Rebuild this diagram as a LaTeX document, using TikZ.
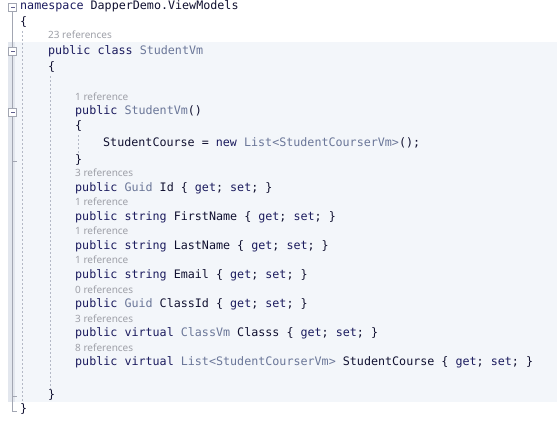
\documentclass[tikz,border=0pt]{standalone}
\usepackage{fontspec}
\setmonofont{DejaVu Sans Mono}
\newfontfamily\lensfont{Noto Sans}
\definecolor{kwc}{HTML}{1B1B5E}
\definecolor{tyc}{HTML}{6A7698}
\definecolor{idc}{HTML}{101030}
\definecolor{lensc}{HTML}{9EA0A8}
\definecolor{bgc}{HTML}{F3F6FA}
\definecolor{gutc}{HTML}{E3E7EE}
\definecolor{linec}{HTML}{A2A6B2}
\definecolor{dashc}{HTML}{B4B9C6}
\newcommand{\kw}[1]{\textcolor{kwc}{#1}}
\newcommand{\ty}[1]{\textcolor{tyc}{#1}}
\tikzset{
  code/.style={anchor=mid west, inner sep=0pt, font=\ttfamily\fontsize{11.7}{12}\selectfont, text=idc},
  lens/.style={anchor=mid west, inner sep=0pt, font=\lensfont\fontsize{10}{10}\selectfont, text=lensc},
  guide/.style={draw=dashc, line width=0.6pt, dash pattern=on 2pt off 2pt},
  outline/.style={draw=linec, line width=0.7pt},
  foldbox/.style={draw=linec, fill=white, line width=0.6pt, minimum size=8pt, inner sep=0pt, rectangle}
}
\begin{document}
\begin{tikzpicture}[x=1pt,y=-1pt]
\useasboundingbox (0,0) rectangle (557,421);
\fill[white] (0,0) rectangle (557,421);
% highlighted class scope
\fill[bgc] (15,42) rectangle (557,402);
\fill[gutc] (8,42) rectangle (15,402);
% outline lines
\coordinate (o1) at (12.5,11);
\coordinate (o2) at (12.5,47);
\coordinate (o3) at (12.5,56);
\coordinate (o4) at (12.5,108);
\coordinate (o5) at (12.5,116);
\coordinate (o6) at (12.5,411);
\coordinate (t1) at (16.5,161);
\coordinate (t1a) at (12.5,161);
\coordinate (t2) at (16.5,396);
\coordinate (t2a) at (12.5,396);
\coordinate (t3) at (16.5,411);
\draw[outline] (o1) -- (o2);
\draw[outline] (o3) -- (o4);
\draw[outline] (o5) -- (o6) -- (t3);
\draw[outline] (t1a) -- (t1);
\draw[outline] (t2a) -- (t2);
% fold boxes
\foreach \n/\yy in {b1/7, b2/51.5, b3/112}{
  \node[foldbox] (\n) at (12.5,\yy) {};
  \draw[kwc!70, line width=0.6pt] ([xshift=2pt]\n.center) -- ([xshift=-2pt]\n.center);
}
% indent guides
\coordinate (g1a) at (22,31);
\coordinate (g1b) at (22,404);
\coordinate (g2a) at (50,76);
\coordinate (g2b) at (50,389);
\coordinate (g3a) at (78,135);
\coordinate (g3b) at (78,155);
\draw[guide] (g1a) -- (g1b);
\draw[guide] (g2a) -- (g2b);
\draw[guide] (g3a) -- (g3b);
% code
\node[code] (l1) at (20,7) {\kw{namespace} DapperDemo.ViewModels};
\node[code] (l2) at (20,23) {\{};
\node[lens] (r1) at (48,36) {23 references};
\node[code] (l3) at (48,52) {\kw{public class} \ty{StudentVm}};
\node[code] (l4) at (48,68) {\{};
\node[lens] (r2) at (75,98) {1 reference};
\node[code] (l5) at (75,112) {\kw{public} \ty{StudentVm}()};
\node[code] (l6) at (75,127) {\{};
\node[code] (l7) at (103,144) {StudentCourse = \kw{new} \ty{List<StudentCourserVm>}();};
\node[code] (l8) at (75,161) {\}};
\node[lens] (r3) at (75,174.5) {3 references};
\node[code] (l9) at (75,189) {\kw{public} \ty{Guid} Id \{ \kw{get}; \kw{set}; \}};
\node[lens] (r4) at (75,203.5) {1 reference};
\node[code] (l10) at (75,218) {\kw{public string} FirstName \{ \kw{get}; \kw{set}; \}};
\node[lens] (r5) at (75,232.5) {1 reference};
\node[code] (l11) at (75,247) {\kw{public string} LastName \{ \kw{get}; \kw{set}; \}};
\node[lens] (r6) at (75,261.5) {1 reference};
\node[code] (l12) at (75,276) {\kw{public string} Email \{ \kw{get}; \kw{set}; \}};
\node[lens] (r7) at (75,291) {0 references};
\node[code] (l13) at (75,305) {\kw{public} \ty{Guid} ClassId \{ \kw{get}; \kw{set}; \}};
\node[lens] (r8) at (75,320) {3 references};
\node[code] (l14) at (75,334) {\kw{public virtual} \ty{ClassVm} Classs \{ \kw{get}; \kw{set}; \}};
\node[lens] (r9) at (75,349) {8 references};
\node[code] (l15) at (75,363) {\kw{public virtual} \ty{List<StudentCourserVm>} StudentCourse \{ \kw{get}; \kw{set}; \}};
\node[code] (l16) at (48,396) {\}};
\node[code] (l17) at (20,410) {\}};
\end{tikzpicture}
\end{document}
